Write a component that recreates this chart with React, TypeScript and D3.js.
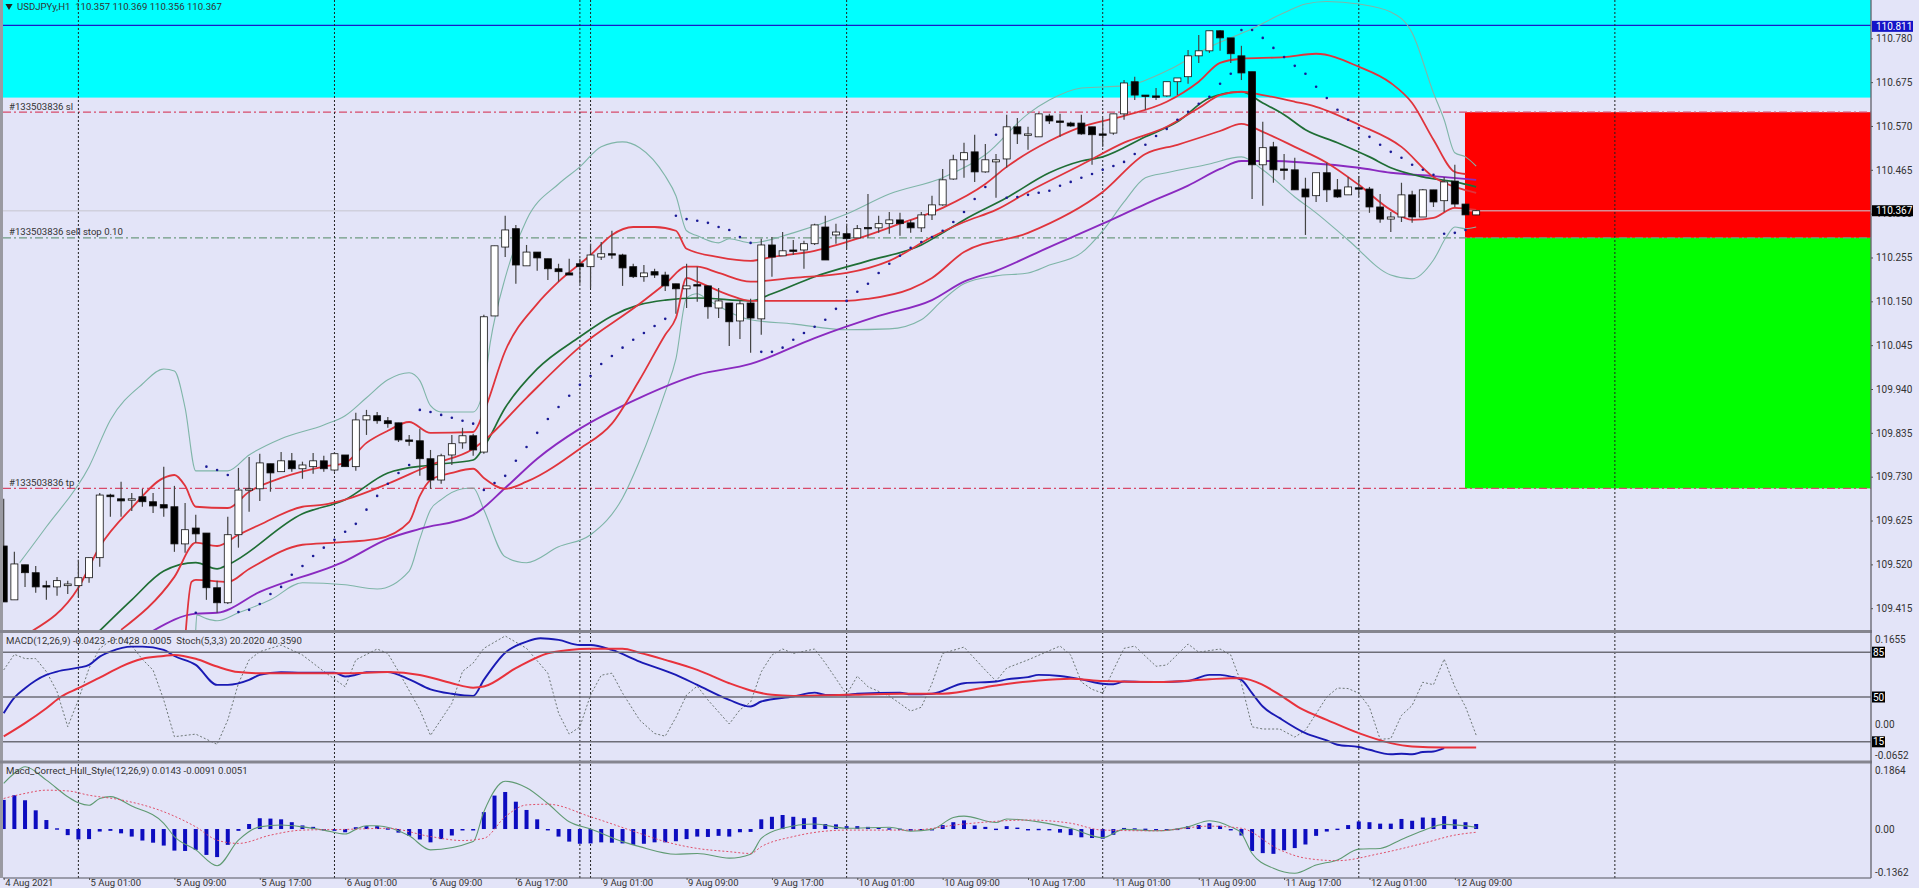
import React, { useRef, useEffect } from 'react';
import * as d3 from 'd3';

type Pt = [number, number];

const opens = [109.564,109.435,109.519,109.500,109.469,109.466,109.469,109.469,109.488,109.536,109.686,109.677,109.675,109.682,109.670,109.663,109.658,109.569,109.607,109.595,109.464,109.428,109.591,109.698,109.701,109.761,109.742,109.768,109.749,109.754,109.768,109.746,109.782,109.754,109.866,109.876,109.864,109.859,109.818,109.816,109.773,109.722,109.782,109.811,109.828,109.789,110.115,110.280,110.324,110.235,110.268,110.252,110.228,110.218,110.240,110.233,110.256,110.264,110.261,110.233,110.209,110.221,110.213,110.192,110.180,110.190,110.187,110.134,110.146,110.103,110.146,110.108,110.285,110.259,110.273,110.273,110.288,110.328,110.309,110.312,110.302,110.327,110.326,110.336,110.345,110.338,110.326,110.357,110.381,110.443,110.489,110.508,110.460,110.484,110.491,110.568,110.549,110.544,110.594,110.582,110.577,110.577,110.568,110.551,110.553,110.599,110.676,110.644,110.642,110.642,110.676,110.688,110.738,110.750,110.798,110.781,110.738,110.700,110.477,110.520,110.467,110.465,110.419,110.403,110.458,110.417,110.405,110.422,110.419,110.376,110.347,110.352,110.405,110.352,110.417,110.391,110.438,110.383,110.357];
const highs = [109.677,109.550,109.519,109.516,109.481,109.490,109.481,109.531,109.536,109.691,109.689,109.718,109.691,109.701,109.691,109.754,109.708,109.667,109.639,109.595,109.481,109.634,109.751,109.777,109.785,109.761,109.789,109.787,109.766,109.787,109.780,109.789,109.782,109.883,109.890,109.885,109.873,109.859,109.830,109.845,109.794,109.785,109.830,109.847,109.833,110.118,110.283,110.355,110.333,110.285,110.268,110.252,110.240,110.252,110.252,110.288,110.292,110.319,110.264,110.240,110.237,110.228,110.221,110.192,110.240,110.233,110.187,110.182,110.146,110.153,110.156,110.300,110.304,110.316,110.297,110.295,110.336,110.355,110.336,110.336,110.333,110.407,110.355,110.364,110.362,110.345,110.364,110.403,110.467,110.501,110.530,110.549,110.527,110.503,110.597,110.589,110.568,110.601,110.599,110.599,110.580,110.597,110.568,110.589,110.599,110.680,110.688,110.644,110.661,110.676,110.685,110.752,110.788,110.798,110.800,110.781,110.762,110.700,110.580,110.532,110.503,110.494,110.446,110.458,110.482,110.443,110.448,110.450,110.424,110.407,110.364,110.434,110.415,110.419,110.417,110.448,110.477,110.383,110.369];
const lows = [109.430,109.435,109.466,109.452,109.435,109.445,109.449,109.442,109.476,109.514,109.634,109.634,109.648,109.658,109.643,109.634,109.550,109.548,109.572,109.435,109.404,109.425,109.560,109.646,109.672,109.694,109.742,109.742,109.725,109.737,109.742,109.742,109.754,109.744,109.830,109.857,109.847,109.813,109.804,109.732,109.701,109.713,109.758,109.797,109.780,109.785,110.115,110.256,110.192,110.235,110.223,110.201,110.197,110.213,110.192,110.182,110.249,110.252,110.187,110.206,110.197,110.206,110.175,110.120,110.134,110.149,110.108,110.110,110.043,110.060,110.027,110.070,110.209,110.259,110.261,110.228,110.285,110.249,110.288,110.276,110.302,110.302,110.314,110.312,110.307,110.314,110.316,110.345,110.379,110.441,110.446,110.436,110.458,110.398,110.470,110.527,110.513,110.544,110.575,110.544,110.568,110.549,110.477,110.520,110.549,110.585,110.632,110.609,110.632,110.640,110.644,110.671,110.721,110.745,110.750,110.721,110.680,110.395,110.379,110.434,110.441,110.417,110.309,110.388,110.388,110.398,110.405,110.400,110.362,110.338,110.316,110.340,110.338,110.352,110.376,110.364,110.376,110.357,110.356];
const closes = [109.430,109.521,109.500,109.466,109.466,109.481,109.473,109.488,109.536,109.686,109.682,109.672,109.677,109.670,109.660,109.655,109.569,109.603,109.593,109.464,109.428,109.591,109.698,109.701,109.763,109.739,109.768,109.749,109.758,109.768,109.749,109.785,109.754,109.866,109.876,109.864,109.857,109.818,109.817,109.773,109.722,109.780,109.809,109.828,109.794,110.113,110.283,110.321,110.237,110.268,110.254,110.228,110.221,110.213,110.233,110.261,110.264,110.263,110.230,110.209,110.218,110.213,110.187,110.180,110.187,110.189,110.137,110.151,110.101,110.144,110.110,110.285,110.256,110.271,110.271,110.288,110.333,110.249,110.316,110.300,110.324,110.326,110.336,110.345,110.336,110.326,110.357,110.381,110.441,110.489,110.506,110.460,110.489,110.489,110.568,110.551,110.551,110.599,110.582,110.580,110.570,110.551,110.549,110.550,110.599,110.673,110.644,110.642,110.641,110.676,110.685,110.738,110.750,110.798,110.781,110.743,110.697,110.477,110.518,110.465,110.466,110.417,110.400,110.458,110.417,110.400,110.424,110.421,110.376,110.347,110.352,110.405,110.352,110.417,110.388,110.436,110.383,110.357,110.367];

const bbUpper: Pt[] = [[1.5,109.524],[4,109.610],[8,109.754],[10,109.866],[13,109.952],[15,109.988],[16,109.983],[17,109.895],[18,109.744],[21,109.744],[23,109.782],[26,109.821],[30,109.854],[32,109.876],[34,109.919],[36,109.962],[38,109.979],[39,109.960],[40,109.900],[41,109.885],[44,109.885],[45,109.943],[45.6,110.051],[47,110.206],[49,110.345],[52,110.431],[54,110.472],[56,110.520],[58,110.532],[59.6,110.518],[62,110.450],[63,110.403],[64,110.319],[65,110.307],[67,110.290],[68,110.300],[70,110.290],[74,110.314],[79,110.359],[83,110.407],[88,110.446],[92,110.501],[96,110.599],[98,110.632],[101,110.661],[105,110.666],[109,110.702],[113,110.759],[117,110.803],[120,110.841],[122,110.862],[124,110.868],[127,110.862],[130,110.843],[132,110.793],[134,110.649],[135,110.585],[136,110.506],[137,110.496],[138,110.474]];
const bbLower: Pt[] = [[18,109.363],[18.1,109.399],[19,109.390],[20,109.385],[22,109.404],[25,109.435],[28,109.476],[32,109.471],[35,109.461],[38,109.504],[39,109.581],[40,109.651],[41,109.675],[43,109.701],[44,109.703],[45,109.651],[47,109.538],[49,109.524],[52,109.562],[55,109.591],[58,109.679],[59.6,109.768],[62,109.933],[63,110.012],[64,110.158],[65,110.168],[66,110.153],[70,110.106],[74,110.096],[79,110.082],[83,110.084],[86,110.106],[88,110.153],[90,110.192],[93,110.211],[96,110.218],[98,110.237],[101,110.266],[103,110.319],[105,110.388],[107,110.446],[109,110.458],[113,110.479],[116,110.496],[118,110.465],[121,110.400],[123,110.362],[126,110.297],[130,110.213],[132,110.204],[134,110.249],[135.2,110.304],[136,110.328],[137,110.324],[138,110.328]];
const redUpper: Pt[] = [[2.7,109.361],[7,109.464],[9,109.562],[12,109.655],[15,109.727],[16,109.734],[17,109.708],[18,109.658],[21,109.655],[23,109.694],[26,109.727],[30,109.754],[32,109.763],[34,109.811],[36,109.840],[38,109.861],[40,109.835],[44,109.837],[45,109.885],[47,110.031],[50,110.144],[52,110.197],[55,110.261],[57,110.309],[59,110.328],[61,110.328],[63,110.319],[64,110.276],[67,110.256],[70,110.247],[72,110.256],[76,110.271],[80,110.300],[84,110.336],[88,110.374],[92,110.431],[94,110.472],[98,110.534],[101,110.568],[105,110.594],[109,110.628],[112,110.676],[114,110.721],[116,110.731],[120,110.735],[123,110.743],[127,110.712],[130,110.673],[132,110.625],[134,110.537],[136,110.460],[137,110.455]];
const redMid: Pt[] = [[11,109.363],[16,109.490],[18,109.572],[20,109.564],[22,109.591],[24,109.615],[28,109.658],[30,109.663],[32,109.675],[36,109.713],[40,109.758],[44,109.797],[45,109.816],[49,109.919],[54,110.041],[59.6,110.144],[62,110.192],[64,110.233],[65,110.233],[67,110.218],[70,110.197],[74,110.206],[79,110.218],[83,110.247],[87,110.304],[90,110.340],[93,110.369],[96,110.412],[101,110.477],[105,110.530],[109,110.568],[112,110.613],[114,110.644],[116,110.652],[118,110.644],[121,110.628],[123,110.616],[127,110.573],[131,110.520],[134,110.448],[136,110.424],[138,110.410]];
const redLower: Pt[] = [[17,109.339],[17.6,109.478],[18,109.483],[21,109.478],[23,109.509],[28,109.567],[31,109.572],[35,109.581],[38,109.622],[39,109.684],[40,109.722],[42,109.739],[44,109.749],[45,109.727],[47,109.701],[49,109.718],[54,109.797],[57,109.857],[59.6,109.962],[62,110.070],[63,110.110],[64,110.206],[65,110.197],[68,110.165],[70,110.151],[74,110.151],[79,110.151],[81,110.156],[85,110.180],[87,110.206],[90,110.268],[96,110.314],[103,110.412],[107,110.503],[110,110.525],[114,110.558],[116,110.575],[118,110.556],[121,110.520],[124,110.482],[127,110.429],[130,110.369],[132,110.345],[134,110.350],[136,110.374],[138,110.369]];
const greenMa: Pt[] = [[9,109.361],[12,109.435],[15,109.504],[18,109.524],[20,109.509],[21,109.519],[28,109.641],[32,109.675],[36,109.739],[40,109.758],[44,109.770],[45,109.801],[47,109.895],[50,109.988],[54,110.065],[57,110.115],[59.6,110.142],[62,110.153],[65,110.158],[70,110.151],[72,110.168],[76,110.209],[81,110.247],[86,110.285],[88,110.314],[90,110.345],[94,110.398],[98,110.458],[101,110.486],[103,110.496],[107,110.544],[110,110.580],[113,110.637],[116,110.652],[118,110.625],[120,110.597],[122,110.561],[125,110.530],[128,110.496],[130,110.470],[133,110.448],[136,110.436],[138,110.424]];
const purpleMa: Pt[] = [[14,109.361],[18,109.402],[20,109.404],[24,109.454],[32,109.528],[36,109.581],[39,109.605],[44,109.638],[47,109.703],[50,109.773],[54,109.845],[59.6,109.919],[65,109.974],[70,110.000],[76,110.062],[82,110.115],[87,110.153],[90,110.197],[93,110.223],[98,110.280],[103,110.336],[107,110.383],[111,110.427],[114,110.467],[116,110.486],[119,110.486],[122,110.482],[127,110.470],[130,110.458],[134,110.450],[138,110.441]];
const sar: Pt[] = [[18,109.404],[19,109.754],[20,109.746],[21,109.734],[22,109.406],[23,109.411],[24,109.425],[25,109.449],[26,109.466],[27,109.495],[28,109.516],[29,109.540],[30,109.560],[31,109.579],[32,109.598],[33,109.617],[34,109.651],[35,109.684],[36,109.713],[37,109.739],[38,109.758],[39,109.890],[40,109.885],[41,109.878],[42,109.871],[43,109.864],[44,109.857],[45,109.698],[46,109.715],[47,109.732],[48,109.768],[49,109.801],[50,109.835],[51,109.868],[52,109.897],[53,109.924],[54,109.950],[55,109.971],[56,110.000],[57,110.019],[58,110.039],[59,110.058],[60,110.074],[61,110.091],[62,110.108],[63,110.355],[64,110.347],[65,110.343],[66,110.338],[67,110.328],[68,110.321],[69,110.304],[70,110.290],[71,110.029],[72,110.029],[73,110.039],[74,110.058],[75,110.074],[76,110.089],[77,110.106],[78,110.132],[79,110.151],[80,110.173],[81,110.192],[82,110.218],[83,110.240],[84,110.259],[85,110.278],[86,110.292],[87,110.304],[88,110.319],[89,110.340],[90,110.364],[91,110.395],[92,110.424],[93,110.549],[94,110.398],[95,110.400],[96,110.405],[97,110.410],[98,110.415],[99,110.427],[100,110.436],[101,110.446],[102,110.455],[103,110.465],[104,110.474],[105,110.484],[106,110.503],[107,110.525],[108,110.546],[109,110.563],[110,110.585],[111,110.604],[112,110.623],[113,110.640],[114,110.671],[115,110.695],[116,110.800],[117,110.800],[118,110.781],[119,110.757],[120,110.735],[121,110.714],[122,110.695],[123,110.664],[124,110.637],[125,110.609],[126,110.585],[127,110.565],[128,110.544],[129,110.525],[130,110.508],[131,110.494],[132,110.477],[133,110.465],[134,110.453],[135,110.312],[136,110.314],[137,110.321]];

const macdMain: Pt[] = [[0,0.021],[1,0.049],[2,0.066],[3,0.080],[4,0.090],[5,0.096],[7,0.103],[8,0.108],[9,0.123],[10,0.132],[12,0.141],[13,0.141],[15,0.135],[16,0.124],[18,0.108],[20,0.072],[21,0.072],[23,0.081],[24,0.090],[26,0.095],[28,0.094],[31,0.094],[32,0.087],[33,0.090],[34,0.095],[36,0.095],[38,0.082],[40,0.064],[42,0.056],[44,0.052],[45,0.081],[47,0.130],[49,0.150],[50.3,0.156],[52,0.153],[54,0.144],[55,0.144],[57,0.135],[59.6,0.114],[63,0.090],[65,0.072],[68,0.045],[70,0.033],[71,0.042],[74,0.051],[76,0.058],[77,0.054],[79,0.054],[80,0.056],[84,0.058],[85,0.055],[87,0.056],[90,0.075],[93,0.078],[94,0.082],[96,0.086],[97,0.090],[99,0.088],[101,0.082],[103,0.074],[104,0.073],[105,0.078],[108,0.077],[111,0.079],[113,0.090],[114,0.090],[115,0.087],[116,0.081],[117,0.057],[118,0.033],[119.6,0.012],[122,-0.015],[124,-0.028],[125,-0.036],[127,-0.040],[128,-0.045],[130,-0.053],[131,-0.052],[132,-0.053],[133,-0.049],[134,-0.048],[135,-0.042]];
const macdSignal: Pt[] = [[0,-0.021],[2,0.003],[4,0.030],[5.4,0.051],[7,0.066],[9,0.085],[11,0.105],[13,0.119],[15,0.124],[16,0.126],[18,0.119],[20,0.105],[22,0.095],[24,0.093],[28,0.093],[32,0.093],[36,0.095],[39,0.090],[42,0.075],[44,0.067],[45,0.069],[48,0.102],[51,0.129],[53,0.135],[55,0.137],[58,0.137],[59.6,0.130],[62,0.117],[65,0.099],[68,0.075],[70,0.062],[72,0.054],[74,0.052],[79,0.054],[84,0.056],[88,0.056],[93,0.071],[97,0.080],[100,0.083],[103,0.079],[108,0.077],[113,0.082],[115,0.084],[116,0.084],[118,0.072],[119.6,0.054],[121.5,0.030],[124,0.009],[127,-0.015],[130,-0.033],[132,-0.039],[135,-0.041],[138,-0.041]];
const stoch: Pt[] = [[0,71.1],[1,83.3],[2,80],[3,80],[4,69.8],[5,54.2],[6,26.8],[7,47.7],[8,72.5],[9,88],[10,94],[11,96],[12,90],[13,79.4],[14,71],[15,47.7],[16,19],[18,21],[20,13],[21,32],[22,60.6],[23,79],[24,85.4],[26,90.6],[28,82.8],[30,70],[32,58],[33,79],[35,87.5],[36,84],[37,70],[39,40],[40,20],[42,45],[43,70],[44,76.5],[45,88],[47,97.7],[49,88],[51,68.6],[52,37.5],[53,21],[54,26.7],[55,51.6],[56,67],[57,68.6],[58,53],[59.6,32],[61,21.5],[62,19.4],[63,34],[64,51.6],[65,58.5],[66,47.7],[68,28.9],[69,40],[70,46],[71,69.7],[72,82.8],[73,87.5],[74,84],[76,87.5],[77,76.5],[79,52],[80,66.3],[81,58],[83,50.8],[85,39],[86,42],[87,60.6],[88,84],[90,89],[92,71],[93,62.5],[94,72.6],[96,79],[99,89.8],[100,82.8],[101,61.7],[102,56],[103,53],[104,71],[105,88],[106,89.8],[108,74],[109,75],[111,91.4],[112,85],[114,87.5],[115,82.8],[116,60.6],[117,26.7],[118,25],[119.6,25],[121,18.7],[122,24],[124,50],[125,57],[126,56.6],[127,53],[128,42],[129,17],[130,17.5],[131,35.6],[132,43.4],[133,61.5],[134,59.6],[135,79.6],[136,58],[137,42.4],[138,20.2]];

const hullHist = [0.081,0.094,0.080,0.052,0.025,0.002,-0.017,-0.029,-0.028,-0.007,-0.005,-0.012,-0.021,-0.032,-0.038,-0.046,-0.060,-0.061,-0.058,-0.072,-0.078,-0.044,-0.005,0.014,0.030,0.029,0.027,0.019,0.010,0.006,-0.003,-0.005,-0.009,0.005,0.008,0.008,0.002,-0.010,-0.019,-0.029,-0.037,-0.028,-0.018,-0.004,-0.004,0.047,0.093,0.103,0.076,0.053,0.027,-0.002,-0.021,-0.035,-0.041,-0.040,-0.037,-0.038,-0.040,-0.044,-0.041,-0.037,-0.037,-0.034,-0.028,-0.021,-0.022,-0.019,-0.021,-0.009,-0.008,0.027,0.034,0.039,0.034,0.030,0.033,0.014,0.013,0.008,0.008,0.006,0.004,0.002,0.001,-0.005,-0.004,-0.001,0.011,0.019,0.024,0.010,0.006,0.001,0.008,0.004,0.000,0.0005,-0.003,-0.010,-0.017,-0.023,-0.025,-0.027,-0.016,0.003,0.002,0.001,-0.004,-0.003,0.001,0.008,0.011,0.016,0.009,-0.003,-0.018,-0.061,-0.067,-0.069,-0.059,-0.053,-0.043,-0.019,-0.007,0.001,0.011,0.021,0.019,0.015,0.015,0.028,0.023,0.032,0.031,0.036,0.027,0.019,0.014];
const hullLine: Pt[] = [[0,0.127],[1,0.155],[2,0.173],[4,0.136],[6,0.090],[7,0.073],[8,0.066],[9,0.085],[10,0.090],[12,0.064],[15,0.016],[16,-0.021],[18,-0.058],[20,-0.102],[22,-0.031],[24,0.006],[26,0.011],[28,0.006],[30,-0.003],[32,-0.014],[33,-0.001],[34,0.009],[35,0.009],[38,-0.019],[40,-0.058],[44,-0.035],[45,0.048],[47,0.133],[49,0.115],[51,0.071],[53,0.020],[55,0],[58,-0.035],[59.6,-0.049],[63,-0.070],[65,-0.068],[68,-0.081],[70,-0.070],[71,-0.026],[73,0.002],[76,0.014],[79,0.002],[83,0.005],[85,-0.006],[87,-0.001],[89,0.032],[90,0.036],[93,0.018],[94,0.028],[97,0.020],[100,0.002],[103,-0.024],[105,-0.001],[108,-0.005],[111,0.006],[113,0.023],[115,0.006],[116,-0.012],[117,-0.068],[119,-0.109],[121,-0.123],[123,-0.100],[125,-0.086],[127,-0.056],[129,-0.054],[131,-0.029],[133,-0.005],[135,0.013],[138,0.005]];
const hullSignal: Pt[] = [[0,0.085],[2,0.099],[4,0.108],[6,0.106],[8,0.094],[11,0.081],[15,0.048],[18,0.006],[20,-0.031],[22,-0.040],[25,-0.017],[28,-0.003],[32,-0.001],[36,0.002],[40,-0.021],[43,-0.032],[45,-0.026],[47,0.034],[49,0.067],[51,0.069],[55,0.034],[59.6,-0.012],[62,-0.035],[65,-0.054],[68,-0.063],[70,-0.068],[71,-0.049],[74,-0.021],[79,-0.003],[85,-0.003],[90,0.014],[96,0.025],[100,0.016],[103,-0.003],[108,-0.005],[113,0.008],[116,0.002],[119.6,-0.058],[122,-0.081],[125,-0.088],[129,-0.068],[133,-0.040],[136,-0.017],[138,-0.009]];

const priceTicks = [110.78,110.675,110.57,110.465,110.36,110.255,110.15,110.045,109.94,109.835,109.73,109.625,109.52,109.415];
const timeLabels = ['4 Aug 2021','5 Aug 01:00','5 Aug 09:00','5 Aug 17:00','6 Aug 01:00','6 Aug 09:00','6 Aug 17:00','9 Aug 01:00','9 Aug 09:00','9 Aug 17:00','10 Aug 01:00','10 Aug 09:00','10 Aug 17:00','11 Aug 01:00','11 Aug 09:00','11 Aug 17:00','12 Aug 01:00','12 Aug 09:00'];
const separatorBars = [7,31,54,55,79,103,127,151];
const stochLevels = [85,50,15];

const cyanBottom = 110.638;
const highLine = 110.811;
const bid = 110.367;
const slPrice = 110.603;
const entryPrice = 110.302;
const tpPrice = 109.702;

const W = 1919;
const H = 888;
const FONT = 'Roboto, sans-serif';
const BG = '#e3e4f8';
const TEXT = '#333';

const App: React.FC = () => {
  const svgRef = useRef<SVGSVGElement>(null);

  useEffect(() => {
    if (!svgRef.current) return;
    const svg = d3.select(svgRef.current);
    svg.selectAll('*').remove();

    const left = 3;
    const right = 1871;
    const mainBottom = 631;
    const p1Top = 633, p1Bottom = 761, p2Top = 762, p2Bottom = 878;

    const x = d3.scaleLinear().domain([0, 151]).range([3.7, 3.7 + 151 * 10.67]);
    const y = d3.scaleLinear().domain([110.78, 109.415]).range([38.3, 608.2]);
    const yMacd = d3.scaleLinear().domain([-0.0652, 0.1655]).range([p1Bottom, p1Top]);
    const yStoch = d3.scaleLinear().domain([0, 100]).range([p1Bottom, p1Top]);
    const yHull = d3.scaleLinear().domain([-0.1362, 0.1864]).range([p2Bottom, p2Top]);

    svg.append('rect').attr('width', W).attr('height', H).attr('fill', BG);

    const defs = svg.append('defs');
    const addClip = (id: string, y0: number, y1: number) =>
      defs.append('clipPath').attr('id', id).append('rect')
        .attr('x', left).attr('y', y0).attr('width', right - left).attr('height', y1 - y0);
    addClip('clip-main', 0, mainBottom);
    addClip('clip-p1', p1Top, p1Bottom);
    addClip('clip-p2', p2Top, p2Bottom);

    // Zones behind the candles
    const zoneX = x(137) - 0.5;
    svg.append('rect').attr('x', left).attr('y', 0).attr('width', right - left)
      .attr('height', y(cyanBottom)).attr('fill', '#00ffff');
    svg.append('rect').attr('x', zoneX).attr('y', y(slPrice)).attr('width', right - zoneX)
      .attr('height', y(entryPrice) - y(slPrice)).attr('fill', '#ff0000');
    svg.append('rect').attr('x', zoneX).attr('y', y(entryPrice)).attr('width', right - zoneX)
      .attr('height', y(tpPrice) - y(entryPrice)).attr('fill', '#00ff00');

    const hline = (py: number, color: string, w: number, dash?: string, opacity = 1) => {
      const l = svg.append('line').attr('x1', left).attr('x2', right).attr('y1', py).attr('y2', py)
        .attr('stroke', color).attr('stroke-width', w).attr('stroke-opacity', opacity);
      if (dash) l.attr('stroke-dasharray', dash);
    };

    hline(y(bid), '#c8c8d2', 1.3, undefined, 0.7);
    hline(y(highLine), '#1a1ac8', 1.3);
    hline(y(slPrice), '#d84a6a', 1.2, '8,3,2,3');
    hline(y(entryPrice), '#6f9a80', 1.3, '8,3,2,3');
    hline(y(tpPrice), '#d84a6a', 1.2, '8,3,2,3');

    // Period separators run through all panels
    svg.append('g').selectAll('line').data(separatorBars).enter().append('line')
      .attr('x1', d => x(d)).attr('x2', d => x(d)).attr('y1', 0).attr('y2', p2Bottom)
      .attr('stroke', '#222').attr('stroke-width', 1).attr('stroke-dasharray', '2,2');

    // Main panel
    const main = svg.append('g').attr('clip-path', 'url(#clip-main)');
    const priceLine = d3.line<Pt>().x(d => x(d[0])).y(d => y(d[1])).curve(d3.curveMonotoneX);
    const drawMain = (pts: Pt[], color: string, w: number) =>
      main.append('path').attr('d', priceLine(pts)).attr('fill', 'none')
        .attr('stroke', color).attr('stroke-width', w).attr('stroke-linejoin', 'round');

    drawMain(bbUpper, '#7fb5a8', 1.1);
    drawMain(bbLower, '#7fb5a8', 1.1);
    drawMain(purpleMa, '#8a2ac0', 1.9);
    drawMain(greenMa, '#1f6e35', 1.7);
    drawMain(redUpper, '#e0343c', 1.8);
    drawMain(redMid, '#e0343c', 1.8);
    drawMain(redLower, '#e0343c', 1.8);

    main.append('g').selectAll('circle').data(sar).enter().append('circle')
      .attr('cx', d => x(d[0])).attr('cy', d => y(d[1])).attr('r', 1.3).attr('fill', '#1a1a96');

    const bars = d3.range(opens.length);
    const candles = main.append('g');
    candles.selectAll('line').data(bars).enter().append('line')
      .attr('x1', i => x(i)).attr('x2', i => x(i))
      .attr('y1', i => y(highs[i])).attr('y2', i => y(lows[i]))
      .attr('stroke', '#444').attr('stroke-width', 1.2);
    candles.selectAll('rect').data(bars).enter().append('rect')
      .attr('x', i => x(i) - 3.5).attr('width', 7)
      .attr('y', i => y(Math.max(opens[i], closes[i])))
      .attr('height', i => Math.max(1.4, Math.abs(y(opens[i]) - y(closes[i]))))
      .attr('fill', i => (closes[i] >= opens[i] ? '#fff' : '#000'))
      .attr('stroke', '#111').attr('stroke-width', 0.8);

    // MACD + Stochastic panel
    const p1 = svg.append('g').attr('clip-path', 'url(#clip-p1)');
    stochLevels.forEach(v => hline(yStoch(v), '#6e6e78', 1.4));
    p1.append('path')
      .attr('d', d3.line<Pt>().x(d => x(d[0])).y(d => yStoch(d[1]))(stoch))
      .attr('fill', 'none').attr('stroke', '#5f6a66').attr('stroke-width', 0.9).attr('stroke-dasharray', '2,2');
    const macdLine = d3.line<Pt>().x(d => x(d[0])).y(d => yMacd(d[1])).curve(d3.curveMonotoneX);
    p1.append('path').attr('d', macdLine(macdMain)).attr('fill', 'none')
      .attr('stroke', '#1a1ab4').attr('stroke-width', 1.9);
    p1.append('path').attr('d', macdLine(macdSignal)).attr('fill', 'none')
      .attr('stroke', '#e8323c').attr('stroke-width', 2);

    // Hull panel
    const p2 = svg.append('g').attr('clip-path', 'url(#clip-p2)');
    p2.append('g').selectAll('rect').data(hullHist).enter().append('rect')
      .attr('x', (_, i) => x(i) - 2).attr('width', 4)
      .attr('y', d => Math.min(yHull(d), yHull(0)))
      .attr('height', d => Math.max(1.4, Math.abs(yHull(d) - yHull(0))))
      .attr('fill', '#0c0cc0');
    const hullPath = d3.line<Pt>().x(d => x(d[0])).y(d => yHull(d[1])).curve(d3.curveMonotoneX);
    p2.append('path').attr('d', hullPath(hullLine)).attr('fill', 'none')
      .attr('stroke', '#5f9a72').attr('stroke-width', 1.1);
    p2.append('path').attr('d', hullPath(hullSignal)).attr('fill', 'none')
      .attr('stroke', '#e0506a').attr('stroke-width', 1).attr('stroke-dasharray', '2,2');

    // Frame
    svg.append('rect').attr('x', 0).attr('y', 0).attr('width', left).attr('height', p2Bottom).attr('fill', '#9a9aa2');
    [[mainBottom - 1, 3], [p1Bottom - 0.5, 3]].forEach(([py, w]) => {
      svg.append('rect').attr('x', 0).attr('y', py).attr('width', right + 1).attr('height', w).attr('fill', '#85858f');
    });
    hline(p2Bottom, '#55555f', 1.2);
    svg.append('line').attr('x1', right).attr('x2', right).attr('y1', 0).attr('y2', p2Bottom)
      .attr('stroke', '#6a6a74').attr('stroke-width', 1.4);

    // Right price axis
    const styleAxis = (g: d3.Selection<SVGGElement, unknown, null, undefined>) => {
      g.select('.domain').remove();
      g.selectAll('line').attr('stroke', '#555');
      g.selectAll('text').attr('fill', TEXT).style('font-family', FONT).style('font-size', '10px');
    };
    const priceAxis = svg.append('g').attr('transform', `translate(${right},0)`)
      .call(d3.axisRight(y).tickValues(priceTicks).tickSize(2).tickPadding(3).tickFormat(d => (d as number).toFixed(3)));
    styleAxis(priceAxis);

    const axisLabel = (py: number, t: string) =>
      svg.append('text').attr('x', 1875).attr('y', py).attr('dy', '0.35em').attr('fill', TEXT)
        .style('font-family', FONT).style('font-size', '10px').text(t);
    axisLabel(yMacd(0.1655) + 6, '0.1655');
    axisLabel(yMacd(0), '0.00');
    axisLabel(yMacd(-0.0652) - 6, '-0.0652');
    axisLabel(yHull(0.1864) + 8, '0.1864');
    axisLabel(yHull(0), '0.00');
    axisLabel(yHull(-0.1362) - 6, '-0.1362');

    const tag = (py: number, t: string, color: string, w: number) => {
      svg.append('rect').attr('x', right + 1).attr('y', py - 5.5).attr('width', w).attr('height', 11).attr('fill', color);
      svg.append('text').attr('x', right + 5).attr('y', py).attr('dy', '0.35em').attr('fill', '#fff')
        .style('font-family', FONT).style('font-size', '10px').text(t);
    };
    tag(y(highLine) + 1, highLine.toFixed(3), '#1414c8', 41);
    tag(y(bid), bid.toFixed(3), '#000', 41);
    stochLevels.forEach(v => {
      svg.append('rect').attr('x', right + 1).attr('y', yStoch(v) - 5.5).attr('width', 13).attr('height', 11).attr('fill', '#000');
      svg.append('text').attr('x', right + 2).attr('y', yStoch(v)).attr('dy', '0.35em').attr('fill', '#fff')
        .style('font-family', FONT).style('font-size', '10px').text(String(v));
    });

    // Time axis, labels pulled up a little so they stay inside the picture
    const timeBars = timeLabels.map((_, i) => i * 8);
    const timeAxis = svg.append('g').attr('transform', `translate(0,${p2Bottom})`)
      .call(d3.axisBottom(x).tickValues(timeBars).tickSize(2).tickPadding(1)
        .tickFormat((_, i) => timeLabels[i]));
    styleAxis(timeAxis);
    timeAxis.selectAll('text').attr('text-anchor', 'start').attr('x', 1).attr('y', 7.8).attr('dy', 0).style('font-size', '9.5px');

    // Legends
    const legend = (px: number, py: number, t: string) =>
      svg.append('text').attr('x', px).attr('y', py).attr('dy', '0.35em').attr('fill', TEXT)
        .style('font-family', FONT).style('font-size', '9.6px').style('white-space', 'pre').text(t);
    svg.append('path').attr('d', d3.symbol(d3.symbolTriangle, 22)()!)
      .attr('transform', 'translate(9,6) rotate(180)').attr('fill', '#222');
    legend(17, 7, 'USDJPYy,H1  110.357 110.369 110.356 110.367');
    legend(9, 107, '#133503836 sl');
    legend(9, 232, '#133503836 sell stop 0.10');
    legend(9, 483, '#133503836 tp');
    legend(6, 641, 'MACD(12,26,9) -0.0423 -0.0428 0.0005  Stoch(5,3,3) 20.2020 40.3590');
    legend(6, 771, 'Macd_Correct_Hull_Style(12,26,9) 0.0143 -0.0091 0.0051');
  }, []);

  return (
    <svg
      ref={svgRef}
      width={W}
      height={H}
      viewBox={`0 0 ${W} ${H}`}
      style={{ position: 'absolute', top: 0, left: 0, display: 'block' }}
    />
  );
};

export default App;
